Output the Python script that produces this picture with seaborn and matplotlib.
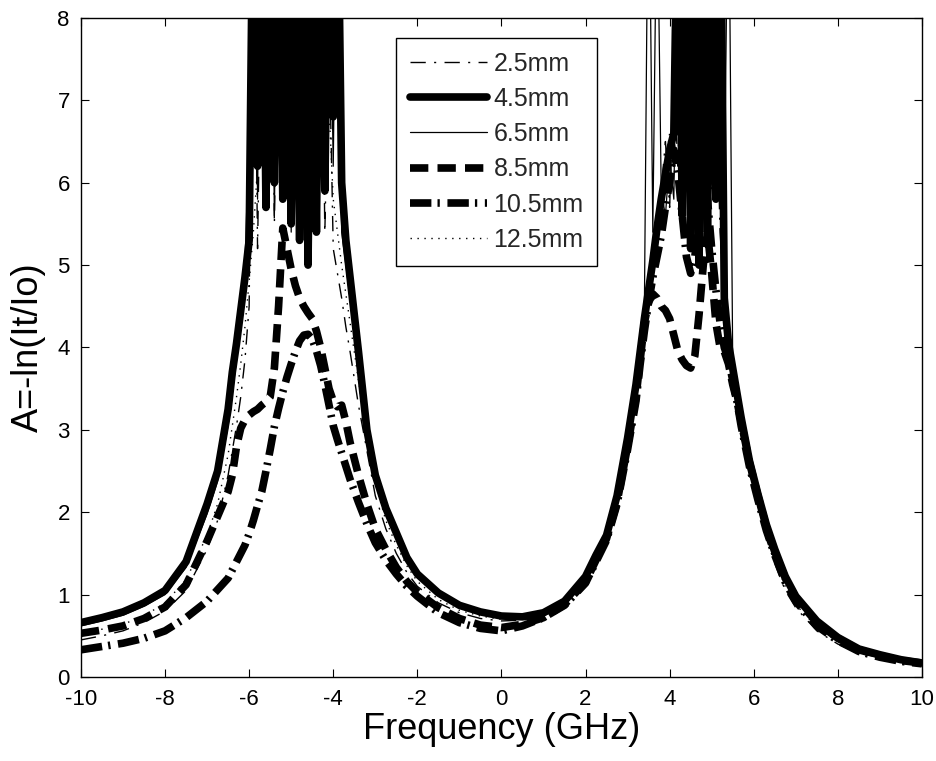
import matplotlib
matplotlib.use("Agg")
import matplotlib.pyplot as plt
import seaborn as sns

# ---------------- data ----------------
freq = [
    -10.0, -9.5, -9.0, -8.5, -8.0, -7.5, -7.0, -6.75, -6.5,
    -6.4, -6.3, -6.2, -6.1, -6.0, -5.9, -5.8, -5.7, -5.6, -5.5,
    -5.4, -5.3, -5.2, -5.1, -5.0, -4.9, -4.8, -4.7, -4.6, -4.5,
    -4.4, -4.3, -4.2, -4.1, -4.0, -3.9, -3.8, -3.7, -3.6,
    -3.4, -3.2, -3.0, -2.75, -2.5, -2.25, -2.0, -1.5, -1.0, -0.5,
    0.0, 0.5, 1.0, 1.5, 2.0, 2.25, 2.5, 2.75, 3.0, 3.2,
    3.3, 3.4, 3.5, 3.6, 3.7, 3.8, 3.9, 4.0, 4.1, 4.2,
    4.3, 4.4, 4.5, 4.6, 4.7, 4.8, 4.9, 5.0, 5.1, 5.2,
    5.3, 5.4, 5.5, 5.6, 5.7,
    5.9, 6.1, 6.3, 6.5, 6.75, 7.0, 7.5, 8.0, 8.5, 9.0, 9.5, 10.0,
]

a_2_5mm = [
    0.45, 0.50, 0.56, 0.66, 0.80, 1.05, 1.55, 1.90, 2.45,
    2.75, 3.05, 3.40, 3.85, 4.50, 9.80, 5.20, 8.60, 6.10, 10.4,
    5.50, 9.20, 6.30, 10.2, 5.90, 8.80, 6.60, 9.90, 5.70, 8.40,
    6.20, 9.60, 5.40, 7.80, 5.20, 4.90, 4.60, 4.25, 3.95,
    3.30, 2.75, 2.20, 1.80, 1.50, 1.27, 1.10, 0.90, 0.78, 0.71,
    0.68, 0.69, 0.74, 0.88, 1.15, 1.40, 1.66, 2.10, 2.78, 3.40,
    3.80, 4.20, 4.60, 5.00, 5.40, 5.90, 6.50, 5.70, 7.20, 6.20,
    8.80, 6.40, 9.40, 5.60, 8.20, 6.60, 9.00, 5.90, 7.40, 5.40,
    4.60, 3.95, 3.60, 3.30, 3.00,
    2.48, 2.05, 1.68, 1.38, 1.05, 0.84, 0.56, 0.40, 0.29, 0.23, 0.18, 0.15,
]

a_4_5mm = [
    0.66, 0.72, 0.79, 0.90, 1.05, 1.40, 2.10, 2.50, 3.25,
    3.70, 4.05, 4.45, 4.85, 5.30, 10.0, 6.20, 10.5, 5.70, 9.80,
    6.00, 10.6, 5.80, 11.0, 5.50, 9.80, 5.30, 10.4, 5.00, 9.60,
    5.40, 10.2, 5.90, 9.80, 6.80, 10.0, 6.00, 5.30, 4.85,
    3.95, 3.00, 2.45, 2.05, 1.75, 1.45, 1.25, 1.02, 0.87, 0.79,
    0.74, 0.73, 0.78, 0.92, 1.22, 1.48, 1.72, 2.20, 2.90, 3.55,
    3.95, 4.35, 4.70, 5.05, 5.45, 5.80, 6.10, 6.40, 6.60, 10.0,
    5.60, 10.8, 5.20, 11.0, 5.00, 10.4, 5.40, 9.80, 5.80, 10.2,
    4.60, 4.05, 3.75, 3.45, 3.15,
    2.62, 2.22, 1.85, 1.55, 1.22, 0.98, 0.68, 0.48, 0.34, 0.27, 0.21, 0.17,
]

a_6_5mm = [
    0.62, 0.68, 0.75, 0.86, 1.00, 1.33, 1.98, 2.38, 3.05,
    3.45, 3.85, 4.30, 5.00, 6.60, 10.5, 5.80, 11.0, 6.40, 9.80,
    5.60, 10.2, 6.80, 11.5, 5.40, 9.60, 7.20, 10.8, 5.80, 10.0,
    6.60, 11.0, 5.90, 9.40, 6.20, 10.6, 5.40, 5.00, 4.60,
    3.85, 3.20, 2.50, 2.00, 1.70, 1.42, 1.22, 0.99, 0.85, 0.77,
    0.72, 0.71, 0.76, 0.90, 1.18, 1.44, 1.70, 2.15, 2.85, 3.50,
    3.90, 4.50, 10.5, 5.40, 9.80, 5.90, 5.60, 6.30, 5.80, 9.40,
    6.50, 10.8, 5.20, 11.2, 6.20, 10.2, 5.80, 10.6, 6.40, 9.60,
    5.80, 10.2, 3.85, 3.45, 3.12,
    2.58, 2.18, 1.80, 1.50, 1.17, 0.94, 0.64, 0.45, 0.32, 0.25, 0.20, 0.16,
]

a_8_5mm = [
    0.53, 0.57, 0.62, 0.71, 0.85, 1.12, 1.65, 1.95, 2.25,
    2.45, 2.80, 3.02, 3.12, 3.18, 3.22, 3.25, 3.30, 3.34, 3.40,
    3.75, 4.50, 5.45, 5.20, 4.95, 4.75, 4.60, 4.50, 4.42, 4.35,
    4.20, 4.00, 3.75, 3.50, 3.35, 3.28, 3.30, 3.10, 2.85,
    2.45, 2.10, 1.80, 1.55, 1.33, 1.16, 1.03, 0.84, 0.71, 0.63,
    0.60, 0.64, 0.72, 0.88, 1.15, 1.42, 1.68, 2.12, 2.80, 3.40,
    3.85, 4.30, 4.55, 4.65, 4.60, 4.50, 4.45, 4.35, 4.15, 3.95,
    3.85, 3.78, 3.75, 3.90, 4.40, 5.00, 5.40, 4.90, 4.30, 4.00,
    3.95, 3.80, 3.55, 3.35, 3.10,
    2.60, 2.20, 1.82, 1.52, 1.20, 0.96, 0.66, 0.47, 0.33, 0.26, 0.20, 0.17,
]

a_10_5mm = [
    0.33, 0.37, 0.41, 0.47, 0.56, 0.72, 0.92, 1.06, 1.20,
    1.30, 1.40, 1.50, 1.60, 1.74, 1.90, 2.08, 2.25, 2.50, 2.76,
    3.04, 3.26, 3.46, 3.64, 3.80, 3.95, 4.08, 4.15, 4.16, 4.10,
    3.96, 3.78, 3.55, 3.30, 3.05, 2.88, 2.72, 2.56, 2.40,
    2.12, 1.86, 1.63, 1.42, 1.25, 1.10, 0.98, 0.78, 0.66, 0.59,
    0.56, 0.62, 0.72, 0.87, 1.14, 1.40, 1.66, 2.10, 2.76, 3.35,
    3.80, 4.20, 4.55, 4.85, 5.10, 5.35, 5.70, 6.00, 6.40, 6.10,
    5.60, 5.10, 4.90, 5.10, 5.60, 6.20, 5.80, 5.20, 4.70, 4.30,
    4.00, 3.85, 3.60, 3.35, 3.05,
    2.55, 2.15, 1.78, 1.48, 1.15, 0.92, 0.62, 0.44, 0.31, 0.24, 0.19, 0.16,
]

a_12_5mm = [
    0.52, 0.58, 0.64, 0.74, 0.90, 1.18, 1.72, 2.10, 2.70,
    3.05, 3.40, 3.80, 4.25, 4.80, 5.40, 6.20, 7.10, 6.40, 7.80,
    6.80, 8.40, 7.20, 9.00, 6.60, 8.20, 7.40, 8.80, 6.90, 7.60,
    7.00, 8.20, 6.40, 6.90, 5.80, 5.40, 5.00, 4.65, 4.30,
    3.60, 2.95, 2.35, 1.90, 1.60, 1.35, 1.16, 0.94, 0.81, 0.74,
    0.70, 0.70, 0.75, 0.89, 1.16, 1.42, 1.68, 2.12, 2.80, 3.45,
    3.85, 4.25, 4.65, 5.05, 5.45, 5.80, 6.20, 6.60, 6.20, 7.40,
    8.20, 7.00, 9.20, 6.80, 8.60, 7.20, 8.80, 6.60, 7.80, 6.20,
    4.90, 4.00, 3.65, 3.35, 3.05,
    2.52, 2.10, 1.72, 1.42, 1.10, 0.88, 0.60, 0.43, 0.31, 0.24, 0.19, 0.16,
]

labels = ["2.5mm", "4.5mm", "6.5mm", "8.5mm", "10.5mm", "12.5mm"]
series = [a_2_5mm, a_4_5mm, a_6_5mm, a_8_5mm, a_10_5mm, a_12_5mm]
x_ticks = [-10, -8, -6, -4, -2, 0, 2, 4, 6, 8, 10]
y_ticks = [0, 1, 2, 3, 4, 5, 6, 7, 8]

# ---------------- styling ----------------
sns.set_theme(style="ticks")
plt.rcParams["font.family"] = ["Liberation Sans", "DejaVu Sans"]
plt.rcParams["axes.unicode_minus"] = False

line_styles = {
    "2.5mm": dict(linewidth=1.0, linestyle=(0, (11, 6, 1.5, 6))),
    "4.5mm": dict(linewidth=5.5, linestyle="-"),
    "6.5mm": dict(linewidth=0.9, linestyle="-"),
    "8.5mm": dict(linewidth=5.5, linestyle=(0, (2.4, 1.2))),
    "10.5mm": dict(linewidth=5.5, linestyle=(0, (2.8, 0.8, 0.3, 1.0))),
    "12.5mm": dict(linewidth=1.0, linestyle=(0, (1, 4))),
}

fig = plt.figure(figsize=(9.37, 7.61), dpi=100)
fig.patch.set_facecolor("white")
ax = fig.add_axes([0.0864, 0.1104, 0.8975, 0.866])
ax.set_facecolor("white")

for lab, vals in zip(labels, series):
    sns.lineplot(x=freq, y=vals, ax=ax, color="black", label=lab,
                 estimator=None, sort=False, **line_styles[lab])

ax.set_xlim(-10, 10)
ax.set_ylim(0, 8)
ax.set_xticks(x_ticks)
ax.set_yticks(y_ticks)
ax.set_xticklabels([str(t) for t in x_ticks])
ax.set_yticklabels([str(t) for t in y_ticks])

for sp in ax.spines.values():
    sp.set_visible(True)
    sp.set_color("black")
    sp.set_linewidth(1.0)

ax.tick_params(direction="in", length=6, width=0.8, top=True, right=True,
               labelsize=16, colors="black")
ax.tick_params(axis="x", pad=9)
ax.tick_params(axis="y", pad=8)

ax.set_xlabel("Frequency (GHz)", fontsize=26, labelpad=1, color="black")
ax.set_ylabel("A=-ln(It/Io)", fontsize=26, labelpad=8, color="black")

handles, labs = ax.get_legend_handles_labels()
leg = ax.legend(handles, labs, loc="upper left", bbox_to_anchor=(0.3746, 0.9697),
                frameon=True, fancybox=False, edgecolor="black", framealpha=1,
                fontsize=18, handlelength=3.1, handletextpad=0.25,
                labelspacing=0.45, borderpad=0.55, borderaxespad=0)
leg.get_frame().set_linewidth(1.0)

fig.savefig("out.png", dpi=100, facecolor="white")
